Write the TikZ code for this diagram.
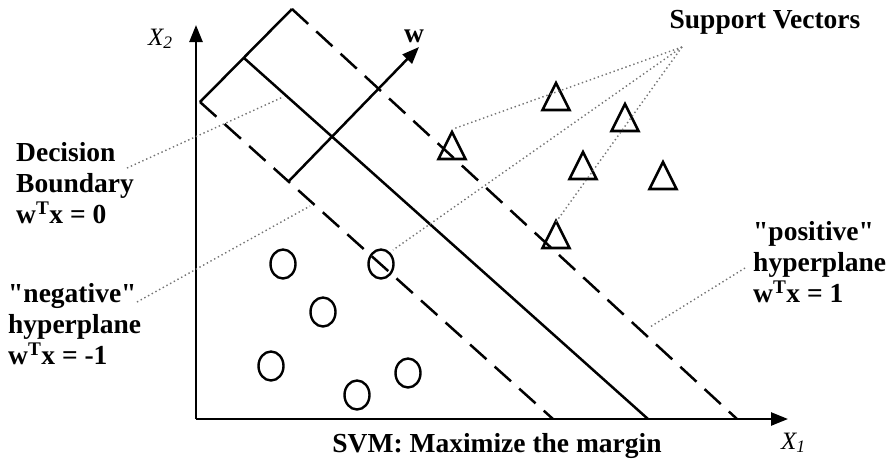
\documentclass[tikz,border=0pt]{standalone}
\usepackage{fontspec}
\setmainfont{Liberation Serif}
\usetikzlibrary{arrows.meta}
\definecolor{dotgray}{RGB}{115,115,115}
\tikzset{
  mainline/.style={line width=2.5pt, line cap=butt},
  dashline/.style={line width=2.5pt, dash pattern=on 22pt off 11pt},
  dotline/.style={dotgray, line width=1.4pt, dash pattern=on 1.4pt off 2.8pt},
  axisline/.style={line width=2.5pt, -{Triangle[length=17pt,width=13pt]}},
  shapeline/.style={line width=2.6pt, line join=miter},
  bigfont/.style={font=\fontsize{27.5}{31}\selectfont\bfseries},
  lbl/.style={bigfont, inner sep=0pt, align=left, anchor=north west},
  axlbl/.style={font=\fontsize{25}{28}\selectfont\itshape, inner sep=0pt, anchor=base west}
}
\begin{document}
\begin{tikzpicture}[x=1pt, y=-1pt]
\useasboundingbox (0,0) rectangle (888,464);
% axes
\coordinate (origin) at (196,419);
\coordinate (ytip) at (196,25);
\coordinate (xtip) at (788,419);
\draw[axisline] (origin) -- (ytip);
\draw[axisline] (origin) -- (xtip);
\node[axlbl] (x2) at (148,45) {X\textsubscript{2}};
\node[axlbl] (x1) at (781,449) {X\textsubscript{1}};
% hyperplanes
\coordinate (negtop) at (200,102);
\coordinate (negbot) at (553,419);
\coordinate (midtop) at (244,58);
\coordinate (midbot) at (648,419);
\coordinate (postop) at (292,9);
\coordinate (posbot) at (737,419);
\draw[dashline] (negtop) -- (negbot);
\draw[mainline] (midtop) -- (midbot);
\draw[dashline] (postop) -- (posbot);
\draw[mainline, line join=miter] (negtop) -- (postop);
% w vector
\coordinate (wstart) at (288,182);
\coordinate (wtip) at (419,47);
\draw[line width=2.5pt, -{Triangle[length=17pt,width=13pt]}] (wstart) -- (wtip);
\node[bigfont, inner sep=0pt, anchor=base] (wlbl) at (414,42) {w};
% triangles (apex positions)
\coordinate (t1) at (556,83);
\coordinate (t2) at (452,132);
\coordinate (t3) at (625,104);
\coordinate (t4) at (583,152);
\coordinate (t5) at (663,162);
\coordinate (t6) at (556,221);
\foreach \t in {t1,t2,t3,t4,t5,t6}
  \draw[shapeline] (\t) -- ++(13.5,27) -- ++(-27,0) -- cycle;
% circles
\foreach \n/\p in {c1/{(283,264)}, c2/{(381,264)}, c3/{(323,312)}, c4/{(271,366)}, c5/{(357,395)}, c6/{(408,373)}}
  \draw[line width=2.4pt] \p ellipse [x radius=12.5pt, y radius=14.5pt];
% support vector label and pointers
\node[bigfont, inner sep=0pt, anchor=base] (sv) at (765,28) {Support Vectors};
\coordinate (svp) at (682,47);
\coordinate (svt2) at (453,129);
\coordinate (svc2) at (393,250);
\coordinate (svt6) at (556,222);
\draw[dotline] (svp) -- (svt2);
\draw[dotline] (svp) -- (svc2);
\draw[dotline] (svp) -- (svt6);
% decision boundary label
\node[lbl] (dec) at (16,142) {Decision\\Boundary\\w\textsuperscript{T}x = 0};
\coordinate (decA) at (127,168);
\coordinate (decB) at (283,97);
\draw[dotline] (decA) -- (decB);
% negative hyperplane label
\node[lbl] (neg) at (8,283) {\textquotedbl negative\textquotedbl\\hyperplane\\w\textsuperscript{T}x = -1};
\coordinate (negA) at (137,302);
\coordinate (negB) at (310,206);
\draw[dotline] (negA) -- (negB);
% positive hyperplane label
\node[lbl] (pos) at (753,221) {\textquotedbl positive\textquotedbl\\hyperplane\\w\textsuperscript{T}x = 1};
\coordinate (posA) at (745,268);
\coordinate (posB) at (650,327);
\draw[dotline] (posA) -- (posB);
% caption
\node[bigfont, inner sep=0pt, anchor=base] (cap) at (497,452) {SVM: Maximize the margin};
\end{tikzpicture}
\end{document}
